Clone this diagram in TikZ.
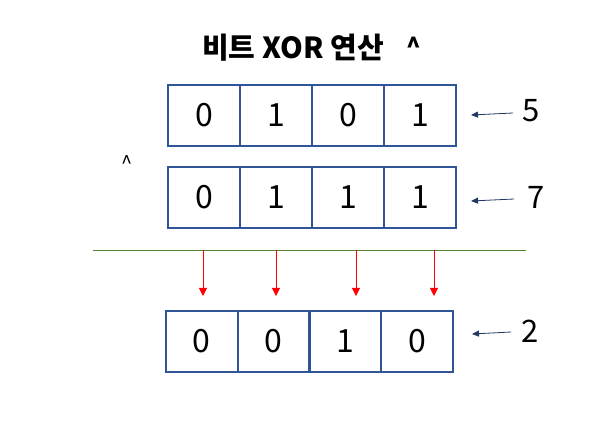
\documentclass[tikz,border=0pt]{standalone}
\usepackage{fontspec}
\setmainfont{Noto Sans CJK KR}
\usetikzlibrary{arrows.meta,positioning}

\definecolor{cellblue}{RGB}{47,85,151}
\definecolor{ptrblue}{RGB}{31,56,100}
\definecolor{linegreen}{RGB}{84,130,53}

\tikzset{
	bitcell/.style={draw=cellblue, line width=2pt, minimum width=72pt, minimum height=61pt,
		inner sep=0pt, outer sep=0pt, font=\fontsize{32}{32}\selectfont},
	numlabel/.style={inner sep=0pt, font=\fontsize{31}{31}\selectfont},
	ptr/.style={ptrblue, line width=0.8pt, -{Triangle[length=7pt,width=6pt]}},
	down/.style={red, line width=0.8pt, -{Triangle[length=8pt,width=8pt]}}
}

\begin{document}
\begin{tikzpicture}[x=1pt, y=-1pt]
	\useasboundingbox (0,0) rectangle (610,443);
	
	% Title
	\node[font=\fontsize{29}{29}\selectfont\bfseries] (title) at (293,48) {비트 XOR 연산};
	\node[font=\fontsize{24}{24}\selectfont\bfseries] (caret1) at (414,46) {\^{}};
	\node[font=\fontsize{20}{20}\selectfont] (caret2) at (127.5,163) {\^{}};
	
	% Operands
	\foreach \b [count=\i] in {0,1,0,1} \node[bitcell] (a\i) at (132+72*\i,115.5) {\b};
	\foreach \b [count=\i] in {0,1,1,1} \node[bitcell] (b\i) at (132+72*\i,197.5) {\b};
	
	% Result
	\foreach \b [count=\i] in {0,0,1,0} \node[bitcell] (r\i) at (130+71.8*\i,341.5) {\b};
	
	% Decimal values
	\node[numlabel] (n5) at (531,111) {5};
	\node[numlabel] (n7) at (536,197) {7};
	\node[numlabel] (n2) at (530,331) {2};
	\coordinate (h5) at (471,115);
	\coordinate (h7) at (471,201);
	\coordinate (h2) at (472,334);
	\draw[ptr] ([xshift=-9pt,yshift=-2pt]n5.west) -- (h5);
	\draw[ptr] ([xshift=-13pt,yshift=-2pt]n7.west) -- (h7);
	\draw[ptr] ([xshift=-10pt,yshift=-1pt]n2.west) -- (h2);
	
	% Separator
	\coordinate (sepL) at (93,250);
	\coordinate (sepR) at (526,250);
	\draw[linegreen, line width=0.8pt] (sepL) -- (sepR);
	
	% Bit arrows
	\foreach \x [count=\i] in {203,276,356,434} {
		\coordinate (top\i) at (\x,250);
		\coordinate (tip\i) at (\x,296);
		\draw[down] (top\i) -- (tip\i);
	}
\end{tikzpicture}
\end{document}
